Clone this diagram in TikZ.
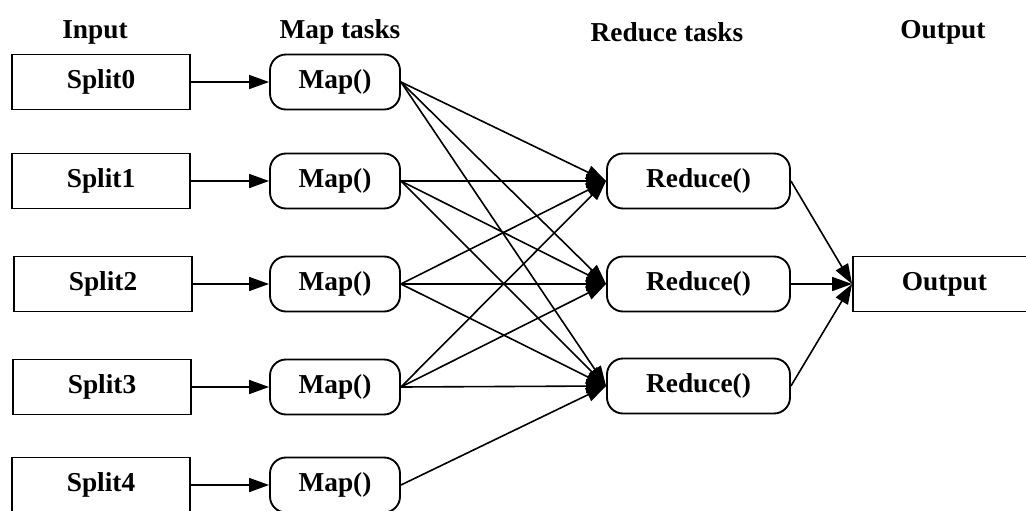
\documentclass[tikz,border=0pt]{standalone}
\usepackage{fontspec}
\setmainfont{Liberation Serif}
\usetikzlibrary{arrows.meta}
\begin{document}
\begin{tikzpicture}[x=0.75pt,y=-0.75pt,
  every node/.style={font=\fontsize{20.5}{23}\selectfont\bfseries, inner sep=0pt},
  box/.style={draw, line width=1.4pt, minimum height=41.25pt},
  splitbox/.style={box, minimum width=133.5pt},
  mapbox/.style={box, rounded corners=12pt, minimum width=97.5pt},
  redbox/.style={box, rounded corners=12pt, minimum width=137.25pt},
  outbox/.style={box, minimum width=137.25pt},
  head/.style={anchor=center},
  flow/.style={line width=1.2pt, -{Triangle[length=15pt,width=10.5pt]}}]
\clip (0,0) rectangle (1026,511);
\fill[white] (0,0) rectangle (1026,511);

% column headings
\node[head] (hin)  at (95,32)  {Input};
\node[head] (hmap) at (340,32) {Map tasks};
\node[head] (hred) at (667,32) {Reduce tasks};
\node[head] (hout) at (943,32) {Output};

% input splits
\node[splitbox] (s0) at (101,82)  {Split0};
\node[splitbox] (s1) at (101,181) {Split1};
\node[splitbox] (s2) at (103,284) {Split2};
\node[splitbox] (s3) at (102,387) {Split3};
\node[splitbox] (s4) at (101,485) {Split4};

% map tasks
\foreach \i/\y in {0/82,1/181,2/284,3/387,4/485}
  \node[mapbox] (m\i) at (335,\y) {Map()};

% reduce tasks
\node[redbox] (r0) at (698.5,181) {Reduce()};
\node[redbox] (r1) at (698.5,284) {Reduce()};
\node[redbox] (r2) at (698.5,386) {Reduce()};

% output
\node[outbox] (out) at (944.5,284) {Output};

% splits feed map tasks
\foreach \i in {0,...,4}
  \draw[flow] (s\i.east) -- (m\i.west);

% shuffle: map tasks to reduce tasks
\foreach \m in {0,1,2,3}
  \foreach \r in {0,1,2}
    \draw[flow] (m\m.east) -- (r\r.west);
\draw[flow] (m4.east) -- (r2.west);

% reduce tasks to output
\foreach \r in {0,1,2}
  \draw[flow] (r\r.east) -- (out.west);
\end{tikzpicture}
\end{document}
